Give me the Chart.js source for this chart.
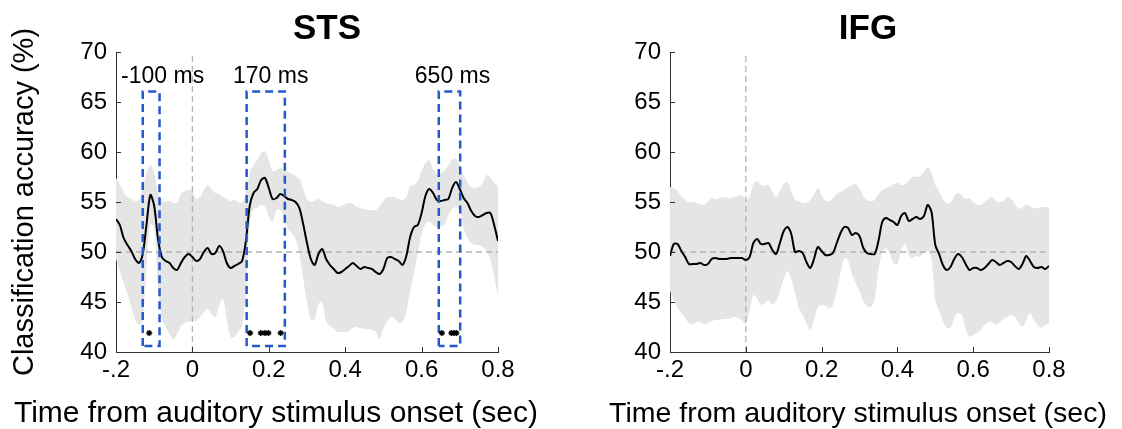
<!DOCTYPE html>
<html>
<head>
<meta charset="utf-8">
<script src="https://cdn.jsdelivr.net/npm/chart.js@4.4.1/dist/chart.umd.min.js"></script>
<style>
    html, body { margin: 0; padding: 0; background: #fff; }
    #wrap { position: relative; width: 1122px; height: 429px; overflow: hidden; }
    canvas { position: absolute; top: 0; }
    #stsChart { left: 0; }
    #ifgChart { left: 561px; }
</style>
</head>
<body>
<div id="wrap">
    <canvas id="stsChart" width="561" height="429"></canvas>
    <canvas id="ifgChart" width="561" height="429"></canvas>
</div>
<script>
// time from auditory onset (sec), one sample every 10 ms
const timeSec = [
    -0.20, -0.19, -0.18, -0.17, -0.16, -0.15, -0.14, -0.13, -0.12, -0.11,
    -0.10, -0.09, -0.08, -0.07, -0.06, -0.05, -0.04, -0.03, -0.02, -0.01,
    0.00, 0.01, 0.02, 0.03, 0.04, 0.05, 0.06, 0.07, 0.08, 0.09,
    0.10, 0.11, 0.12, 0.13, 0.14, 0.15, 0.16, 0.17, 0.18, 0.19,
    0.20, 0.21, 0.22, 0.23, 0.24, 0.25, 0.26, 0.27, 0.28, 0.29,
    0.30, 0.31, 0.32, 0.33, 0.34, 0.35, 0.36, 0.37, 0.38, 0.39,
    0.40, 0.41, 0.42, 0.43, 0.44, 0.45, 0.46, 0.47, 0.48, 0.49,
    0.50, 0.51, 0.52, 0.53, 0.54, 0.55, 0.56, 0.57, 0.58, 0.59,
    0.60, 0.61, 0.62, 0.63, 0.64, 0.65, 0.66, 0.67, 0.68, 0.69,
    0.70, 0.71, 0.72, 0.73, 0.74, 0.75, 0.76, 0.77, 0.78, 0.79,
    0.80
];

// STS classification accuracy (%)
const stsMean = [
    53.3, 52.7, 51.4, 50.7, 50.1, 49.3, 48.9, 49.8, 52.8, 55.7,
    54.6, 51.3, 49.5, 49.1, 48.9, 48.4, 48.2, 48.9, 49.5, 49.8,
    49.5, 49.1, 49.3, 50.0, 50.4, 49.8, 49.9, 50.6, 50.1, 48.9,
    48.4, 48.6, 48.8, 49.1, 51.1, 54.6, 55.9, 56.3, 57.2, 57.4,
    56.4, 55.3, 55.4, 55.8, 55.6, 55.3, 55.2, 55.0, 54.4, 52.8,
    50.9, 49.3, 48.7, 49.8, 50.3, 49.3, 48.7, 48.3, 47.9, 48.0,
    48.3, 48.6, 48.9, 48.6, 48.3, 48.5, 48.4, 48.3, 48.0, 47.8,
    48.3, 49.4, 49.5, 49.3, 49.1, 48.7, 49.6, 51.5, 52.5, 52.7,
    53.9, 55.6, 56.3, 55.9, 55.2, 55.1, 55.2, 55.3, 56.4, 57.0,
    56.3, 55.4, 54.9, 54.1, 53.6, 53.5, 53.7, 53.9, 53.9, 52.7,
    51.1
];
const stsUpper = [
    57.4, 56.8, 56.0, 55.5, 55.3, 55.1, 55.2, 56.3, 57.9, 58.7,
    57.9, 55.9, 55.1, 55.0, 55.1, 54.9, 54.9, 55.8, 56.1, 56.2,
    56.1, 55.3, 55.5, 56.2, 56.7, 56.3, 55.9, 55.8, 55.5, 55.3,
    55.1, 55.2, 55.0, 54.9, 55.9, 57.9, 58.7, 59.2, 59.9, 60.1,
    59.2, 58.1, 58.2, 58.4, 58.2, 58.0, 57.8, 57.6, 57.3, 56.3,
    55.3, 55.0, 55.1, 55.3, 55.1, 54.9, 54.8, 54.7, 54.5, 54.6,
    54.8, 54.9, 54.8, 54.5, 54.4, 54.3, 54.2, 54.2, 54.2, 54.6,
    55.1, 55.5, 55.5, 55.5, 55.3, 55.2, 55.5, 56.6, 56.7, 57.1,
    58.1, 58.9, 59.2, 58.3, 57.8, 57.9, 58.2, 58.7, 59.2, 59.3,
    58.7, 57.7, 57.0, 56.5, 56.4, 56.5, 56.9, 57.7, 57.5, 56.9,
    56.6
];
const stsLower = [
    49.3, 48.1, 46.9, 45.8, 44.5, 43.3, 42.7, 43.1, 48.6, 52.8,
    52.4, 46.6, 43.3, 42.5, 41.8, 41.3, 41.8, 42.6, 42.9, 43.0,
    43.1, 43.1, 43.5, 44.0, 44.3, 43.8, 43.5, 44.6, 45.3, 43.3,
    41.5, 41.5, 42.0, 42.6, 46.0, 53.0, 54.3, 54.4, 54.7, 54.6,
    53.5, 53.0, 54.2, 54.2, 53.4, 52.3, 51.9, 51.3, 49.8, 47.3,
    45.0, 43.3, 43.3, 44.8, 45.0, 43.1, 42.6, 42.4, 42.0, 42.0,
    42.0, 42.1, 42.4, 42.5, 42.4, 42.3, 42.3, 42.2, 42.0, 41.3,
    42.3, 43.1, 43.5, 43.3, 42.9, 43.0, 44.0, 46.1, 47.9, 49.9,
    51.8, 52.8, 53.1, 52.7, 52.5, 52.6, 52.7, 53.7, 54.3, 54.5,
    54.1, 52.4, 51.4, 50.9, 50.7, 50.7, 50.5, 50.1, 49.3, 47.6,
    45.6
];

// IFG classification accuracy (%)
const ifgMean = [
    49.6, 50.8, 50.8, 50.1, 49.5, 48.8, 48.8, 48.8, 48.9, 48.7,
    48.8, 49.3, 49.4, 49.3, 49.3, 49.3, 49.4, 49.4, 49.4, 49.4,
    49.2, 49.5, 50.9, 51.3, 50.8, 50.8, 50.9, 50.2, 49.8, 50.9,
    52.1, 52.5, 51.8, 50.0, 50.1, 49.9, 49.0, 48.4, 49.3, 50.5,
    50.1, 49.7, 49.7, 49.9, 50.9, 51.9, 52.5, 52.4, 51.7, 51.9,
    51.6, 50.4, 49.9, 49.8, 49.8, 51.1, 53.0, 53.4, 53.2, 53.0,
    52.7, 53.6, 53.9, 53.1, 53.3, 53.5, 53.3, 53.6, 54.7, 54.0,
    50.7, 49.8, 48.7, 48.2, 48.5, 49.3, 49.8, 49.5, 48.8, 48.2,
    48.4, 48.4, 48.2, 48.4, 48.8, 49.2, 49.0, 48.7, 48.9, 49.1,
    49.0, 48.6, 48.3, 48.8, 49.6, 49.1, 48.5, 48.4, 48.5, 48.3,
    48.6
];
const ifgUpper = [
    56.5, 56.4, 56.1, 55.6, 55.2, 55.0, 55.0, 54.9, 54.8, 54.7,
    55.1, 55.4, 55.3, 55.4, 55.5, 55.4, 55.4, 55.5, 55.6, 55.7,
    55.2, 55.5, 56.8, 57.1, 56.7, 56.6, 56.7, 56.0, 55.5, 56.1,
    56.8, 57.0, 56.1, 55.2, 55.1, 54.9, 54.9, 55.2, 55.8, 56.4,
    55.7, 55.1, 55.1, 55.4, 55.8, 56.0, 56.2, 56.5, 56.7, 56.8,
    56.4, 55.6, 55.2, 55.1, 55.2, 55.8, 56.2, 56.4, 56.5, 56.8,
    56.9, 56.7, 56.8, 57.1, 57.5, 57.5, 57.6, 58.0, 58.5, 57.9,
    56.7, 56.1, 55.3, 54.9, 54.9, 55.6, 55.9, 55.7, 55.3, 55.4,
    55.0, 54.7, 54.7, 55.0, 55.3, 55.5, 55.1, 55.0, 55.1, 55.5,
    55.3, 54.8, 54.3, 54.5, 54.7, 54.6, 54.4, 54.4, 54.5, 54.5,
    54.5
];
const ifgLower = [
    46.1, 45.2, 44.4, 43.9, 43.4, 42.9, 42.8, 43.0, 43.0, 42.8,
    42.9, 43.1, 43.2, 43.2, 43.3, 43.3, 43.4, 43.5, 43.4, 43.2,
    42.8, 44.1, 45.7, 45.4, 44.7, 44.9, 45.2, 44.7, 45.1, 46.1,
    47.3, 48.1, 47.3, 45.9, 44.4, 43.7, 42.9, 42.2, 43.2, 44.5,
    44.7, 44.6, 44.4, 44.7, 46.1, 47.9, 49.4, 49.1, 47.8, 46.9,
    46.1, 45.1, 44.6, 44.5, 45.2, 48.3, 50.0, 50.4, 49.8, 48.9,
    48.8, 50.2, 50.8, 49.7, 49.4, 49.6, 49.5, 49.9, 50.1, 49.3,
    45.2, 44.1, 43.1, 42.4, 42.4, 43.4, 43.9, 43.7, 42.4, 41.5,
    41.7, 41.9, 42.2, 42.7, 43.0, 43.0, 42.7, 43.0, 43.3, 43.5,
    43.7, 43.5, 42.9, 42.5, 43.2, 43.9, 43.2, 42.7, 42.4, 42.7,
    42.8
];

// significant time points in STS (sec), drawn at 41.9 %
const stsSigTimes = [-0.113, 0.151, 0.179, 0.190, 0.199, 0.231, 0.653, 0.678, 0.685, 0.691];
const sigLevel = 41.9;

// analysis windows in STS
const windowStart = [-0.130, 0.142, 0.645];
const windowEnd = [-0.086, 0.242, 0.701];
const windowBottom = 40.6;
const windowTop = 66.05;
const windowLabels = ['-100 ms', '170 ms', '650 ms'];
const windowLabelTime = [-0.078, 0.205, 0.681];
const windowLabelLevel = 67.55;

const xTickValues = [-0.2, 0, 0.2, 0.4, 0.6, 0.8];
const yTickValues = [40, 45, 50, 55, 60, 65, 70];

const FONT = '"Liberation Sans", Arial, Helvetica, sans-serif';
const axisColor = '#333333';
const bandColor = '#e5e5e5';
const refColor = '#b3b3b3';
const windowColor = '#2557cf';

Chart.defaults.font.family = FONT;
Chart.defaults.color = '#000';

function toPoints(values) {
    return timeSec.map(function (t, i) { return { x: t, y: values[i] }; });
}

// titles, inward tick marks and window labels
const panelDecor = {
    id: 'panelDecor',
    afterDraw: function (chart, args, opts) {
        const ctx = chart.ctx;
        const area = chart.chartArea;
        const xs = chart.scales.x;
        const ys = chart.scales.y;
        ctx.save();

        ctx.strokeStyle = axisColor;
        ctx.lineWidth = 1;
        ctx.beginPath();
        ys.ticks.forEach(function (t) {
            const py = Math.round(ys.getPixelForValue(t.value)) + 0.5;
            ctx.moveTo(area.left, py);
            ctx.lineTo(area.left + 5, py);
        });
        xs.ticks.forEach(function (t) {
            const px = Math.round(xs.getPixelForValue(t.value)) + 0.5;
            ctx.moveTo(px, area.bottom);
            ctx.lineTo(px, area.bottom - 5);
        });
        ctx.stroke();

        ctx.fillStyle = '#000';
        ctx.textAlign = 'center';
        ctx.textBaseline = 'middle';
        ctx.font = 'bold 35px ' + FONT;
        ctx.fillText(opts.title, opts.titleX, opts.titleY);

        ctx.font = opts.xTitleSize + 'px ' + FONT;
        ctx.fillText('Time from auditory stimulus onset (sec)', opts.xTitleX, opts.xTitleY);

        if (opts.windowLabels) {
            ctx.font = '23px ' + FONT;
            opts.windowLabels.forEach(function (label, i) {
                ctx.fillText(label, xs.getPixelForValue(windowLabelTime[i]), ys.getPixelForValue(windowLabelLevel));
            });
        }
        ctx.restore();
    }
};

function makePanel(canvasId, p) {
    const datasets = [{
        label: 'upper',
        data: toPoints(p.upper),
        borderWidth: 0,
        pointRadius: 0,
        tension: 0.3,
        fill: '+1',
        backgroundColor: bandColor,
        order: 10
    }, {
        label: 'lower',
        data: toPoints(p.lower),
        borderWidth: 0,
        pointRadius: 0,
        tension: 0.3,
        fill: false,
        order: 10
    }, {
        label: 'chance',
        data: [{ x: -0.2, y: 50 }, { x: 0.8, y: 50 }],
        borderColor: refColor,
        borderWidth: 1.3,
        borderDash: [6, 4],
        pointRadius: 0,
        fill: false,
        order: 8
    }, {
        label: 'onset',
        data: [{ x: 0, y: 40 }, { x: 0, y: 70 }],
        borderColor: refColor,
        borderWidth: 1.3,
        borderDash: [6, 4],
        pointRadius: 0,
        fill: false,
        order: 8
    }, {
        label: 'mean',
        data: toPoints(p.mean),
        borderColor: '#000',
        borderWidth: 2,
        pointRadius: 0,
        tension: 0.3,
        fill: false,
        order: 3
    }];

    if (p.windows) {
        windowStart.forEach(function (start, i) {
            const end = windowEnd[i];
            datasets.push({
                label: 'window ' + i,
                data: [
                    { x: start, y: windowBottom }, { x: start, y: windowTop },
                    { x: end, y: windowTop }, { x: end, y: windowBottom },
                    { x: start, y: windowBottom }
                ],
                borderColor: windowColor,
                borderWidth: 2.5,
                borderDash: [8, 5],
                borderJoinStyle: 'miter',
                pointRadius: 0,
                tension: 0,
                fill: false,
                order: 2
            });
        });
    }
    if (p.sigTimes) {
        datasets.push({
            label: 'significant',
            data: p.sigTimes.map(function (t) { return { x: t, y: sigLevel }; }),
            showLine: false,
            pointStyle: 'star',
            pointRadius: 3,
            pointBorderColor: '#000',
            pointBorderWidth: 1.4,
            order: 1
        });
    }

    return new Chart(document.getElementById(canvasId), {
        type: 'line',
        data: { datasets: datasets },
        plugins: [panelDecor],
        options: {
            responsive: false,
            animation: false,
            events: [],
            layout: { padding: { left: 0, right: p.padRight, top: 52, bottom: 0 } },
            plugins: {
                legend: { display: false },
                tooltip: { enabled: false },
                panelDecor: {
                    title: p.title,
                    titleX: p.titleX,
                    titleY: 29,
                    xTitleX: p.xTitleX,
                    xTitleY: 414,
                    xTitleSize: p.xTitleSize,
                    windowLabels: p.windows ? windowLabels : null
                }
            },
            scales: {
                x: {
                    type: 'linear',
                    min: -0.2,
                    max: 0.8,
                    afterBuildTicks: function (s) { s.ticks = xTickValues.map(function (v) { return { value: v }; }); },
                    afterFit: function (s) { s.height = 77; },
                    grid: { display: true, drawOnChartArea: false, drawTicks: false },
                    border: { display: true, color: axisColor, width: 1 },
                    ticks: {
                        padding: 4,
                        font: { size: 24 },
                        color: '#000',
                        maxRotation: 0,
                        callback: function (v) { return v === -0.2 ? '-.2' : String(v); }
                    }
                },
                y: {
                    type: 'linear',
                    min: 40,
                    max: 70,
                    afterBuildTicks: function (s) { s.ticks = yTickValues.map(function (v) { return { value: v }; }); },
                    afterFit: function (s) { s.width = p.yWidth; },
                    grid: { display: true, drawOnChartArea: false, drawTicks: false },
                    border: { display: true, color: axisColor, width: 1 },
                    ticks: { padding: 9, font: { size: 24 }, color: '#000' },
                    title: {
                        display: p.yTitle,
                        text: 'Classification accuracy (%)',
                        font: { size: 29 },
                        color: '#000',
                        padding: { top: 8, bottom: 0 }
                    }
                }
            }
        }
    });
}

makePanel('stsChart', {
    title: 'STS', titleX: 327, xTitleX: 276, xTitleSize: 30,
    mean: stsMean, upper: stsUpper, lower: stsLower,
    windows: true, sigTimes: stsSigTimes,
    yTitle: true, yWidth: 116, padRight: 63
});
makePanel('ifgChart', {
    title: 'IFG', titleX: 307, xTitleX: 297, xTitleSize: 28.5,
    mean: ifgMean, upper: ifgUpper, lower: ifgLower,
    windows: false, sigTimes: null,
    yTitle: false, yWidth: 109, padRight: 73
});
</script>
</body>
</html>
